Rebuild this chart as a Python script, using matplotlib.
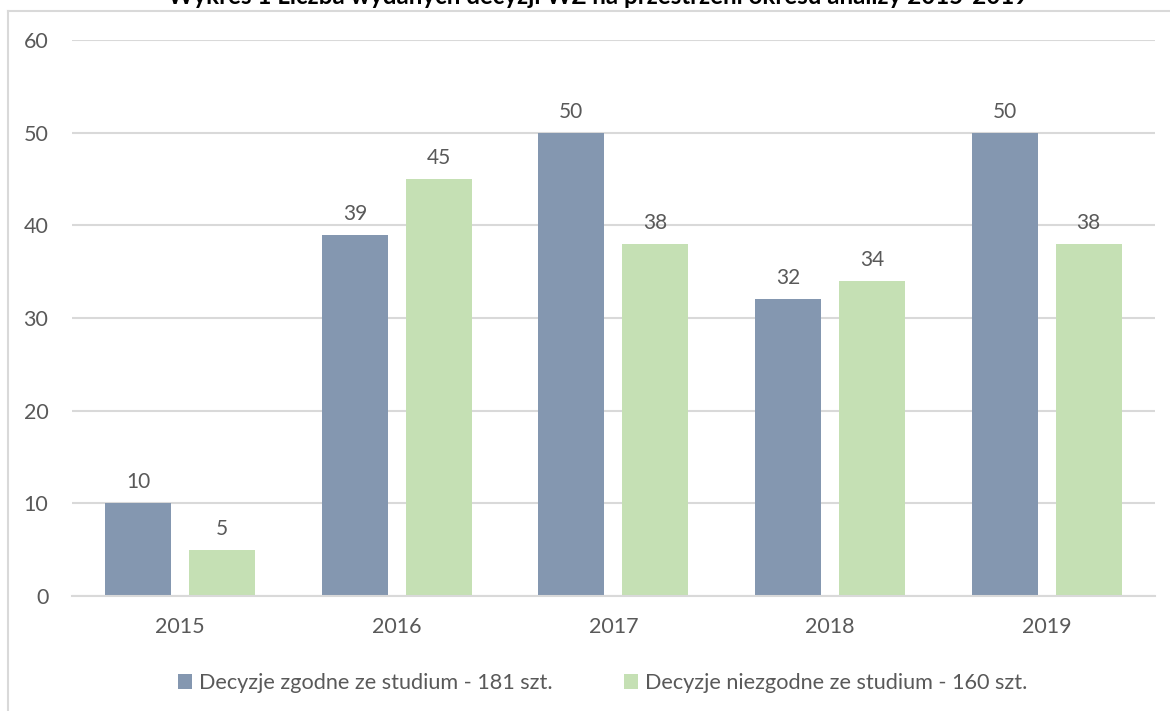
import matplotlib.pyplot as plt
from matplotlib.lines import Line2D
import numpy as np

years = ["2015", "2016", "2017", "2018", "2019"]
zgodne = [10, 39, 50, 32, 50]
niezgodne = [5, 45, 38, 34, 38]
label_zgodne = "Decyzje zgodne ze studium - 181 szt."
label_niezgodne = "Decyzje niezgodne ze studium - 160 szt."
title = "Wykres 1 Liczba wydanych decyzji WZ na przestrzeni okresu analizy 2015-2019"

blue = "#8497B0"
green = "#C5E0B4"
txt = "#595959"
grid = "#D9D9D9"

plt.rcParams['font.family'] = ['Lato', 'DejaVu Sans']

fig = plt.figure(figsize=(11.7, 7.11), dpi=100)
ax = fig.add_axes([0.0615, 0.1617, 0.9256, 0.782])

x = np.arange(len(years))
w = 0.305
b1 = ax.bar(x - 0.194, zgodne, w, color=blue, label=label_zgodne, zorder=3)
b2 = ax.bar(x + 0.194, niezgodne, w, color=green, label=label_niezgodne, zorder=3)

for bars, vals in ((b1, zgodne), (b2, niezgodne)):
    for r, v in zip(bars, vals):
        ax.annotate(str(v), (r.get_x() + r.get_width() / 2, v), xytext=(0, 8),
                    textcoords="offset points", ha="center", va="bottom",
                    fontsize=15, color=txt)

ax.set_xlim(-0.5, 4.5)
ax.set_ylim(0, 60)
ax.set_yticks(range(0, 61, 10))
ax.set_xticks(x)
ax.set_xticklabels(years)
ax.yaxis.grid(True, color=grid, linewidth=1.5, zorder=0)
for s in ax.spines.values():
    s.set_visible(False)
ax.spines['bottom'].set_visible(True)
ax.spines['bottom'].set_color(grid)
ax.spines['bottom'].set_linewidth(1.5)
ax.spines['bottom'].set_zorder(4)
ax.tick_params(axis='both', length=0, labelsize=15.5, labelcolor=txt)
ax.tick_params(axis='y', pad=17)
ax.tick_params(axis='x', pad=15)

leg = fig.legend(handles=[b1, b2], loc="center", bbox_to_anchor=(0.515, 1 - 683 / 711),
                 ncol=2, frameon=False, fontsize=15.6, handlelength=0.65, handleheight=0.65,
                 handletextpad=0.3, columnspacing=3.3)
for t in leg.get_texts():
    t.set_color(txt)

fig.text(0.511, 1 - 4 / 711, title, ha="center", va="baseline", fontsize=17.4,
         fontweight="bold", color="black")

# chart frame (left and top edges visible)
fig.add_artist(Line2D([7.5 / 1170, 7.5 / 1170], [0, 1 - 11 / 711], color=grid, linewidth=1.5))
fig.add_artist(Line2D([7.5 / 1170, 1], [1 - 11 / 711, 1 - 11 / 711], color=grid, linewidth=1.5))

fig.savefig("out.png", dpi=100)
